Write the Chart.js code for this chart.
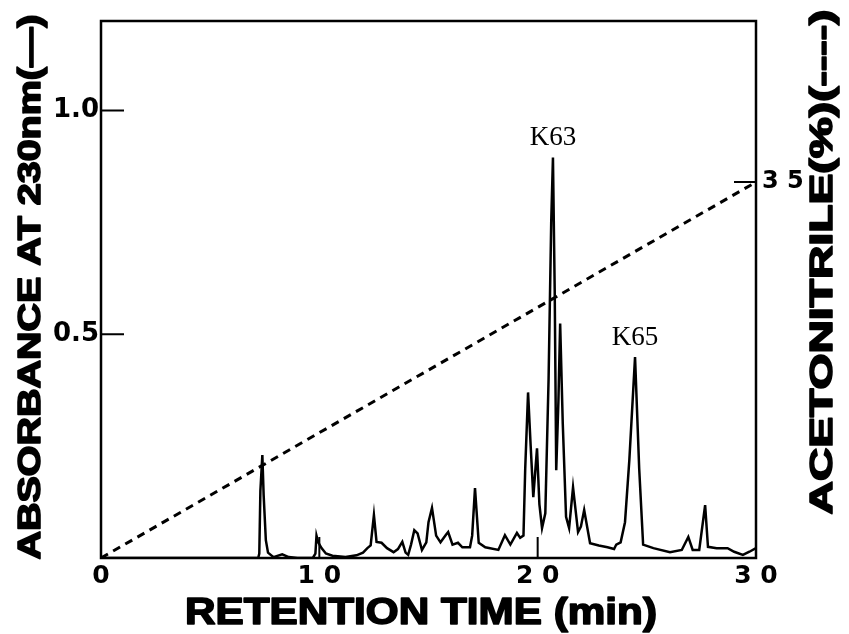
<!DOCTYPE html>
<html>
<head>
<meta charset="utf-8">
<script src="https://cdn.jsdelivr.net/npm/chart.js@4/dist/chart.umd.min.js"></script>
<style>
  html, body { margin: 0; padding: 0; background: #fff; }
  #wrap { width: 849px; height: 634px; }
</style>
</head>
<body>
<div id="wrap"><canvas id="chart" width="849" height="634"></canvas></div>
<script>
// Retention times (min) and absorbance at 230 nm of the HPLC trace
const retentionTimes = [
  0, 7.2, 7.25, 7.3, 7.39, 7.45, 7.55, 7.65, 7.9, 8.3, 8.6, 9.0, 9.7, 9.82, 9.87, 9.95,
  10.1, 10.3, 10.6, 11.2, 11.7, 12.0, 12.2, 12.35, 12.5, 12.62, 12.85, 13.1, 13.4, 13.6,
  13.8, 13.95, 14.07, 14.2, 14.35, 14.5, 14.7, 14.9, 15.0, 15.16, 15.35, 15.55, 15.8, 15.9,
  16.1, 16.35, 16.55, 16.9, 17.0, 17.13, 17.3, 17.6, 18.2, 18.5, 18.75, 19.05, 19.2, 19.35,
  19.43, 19.56, 19.68, 19.8, 19.97, 20.08, 20.2, 20.35, 20.5, 20.62, 20.7, 20.78, 20.85,
  20.95, 21.03, 21.15, 21.3, 21.44, 21.62, 21.85, 21.98, 22.13, 22.4, 22.8, 23.2, 23.5,
  23.6, 23.8, 24.0, 24.2, 24.46, 24.65, 24.83, 25.3, 26.06, 26.6, 26.9, 27.1, 27.4, 27.67,
  27.8, 28.2, 28.7, 29.0, 29.4, 29.7, 30.0
];
const absorbance = [
  0, 0, 0.01, 0.15, 0.23, 0.14, 0.04, 0.012, 0.002, 0.008, 0.002, 0, 0, 0.01, 0.05, 0.035,
  0.022, 0.01, 0.005, 0.002, 0.006, 0.012, 0.022, 0.028, 0.096, 0.036, 0.034, 0.022, 0.013, 0.02,
  0.036, 0.012, 0.007, 0.03, 0.062, 0.055, 0.018, 0.035, 0.08, 0.112, 0.05, 0.035, 0.052, 0.058,
  0.03, 0.034, 0.024, 0.024, 0.05, 0.156, 0.034, 0.024, 0.018, 0.051, 0.03, 0.056, 0.045, 0.05,
  0.2, 0.37, 0.25, 0.136, 0.245, 0.12, 0.067, 0.1, 0.4, 0.75, 0.895, 0.6, 0.196,
  0.35, 0.524, 0.3, 0.092, 0.067, 0.158, 0.058, 0.07, 0.107, 0.033, 0.028, 0.024, 0.02,
  0.03, 0.035, 0.08, 0.22, 0.449, 0.2, 0.03, 0.022, 0.013, 0.018, 0.047, 0.018, 0.018, 0.118,
  0.025, 0.022, 0.022, 0.014, 0.007, 0.014, 0.022
];

// Linear acetonitrile gradient
const gradientTimes = [0, 30];
const acetonitrile = [0, 35];

// Named peaks
const peakNames = ['K63', 'K65'];
const peakTimes = [20.7, 24.46];
const peakHeights = [0.895, 0.449];

// Axis ticks and their labels
const timeTicks = [0, 10, 20, 30];
const timeTickLabels = ['0', '1 0', '2 0', '3 0'];
const absTicks = [0.5, 1.0];
const absTickLabels = ['0.5', '1.0'];
const acnTicks = [35];
const acnTickLabels = ['3 5'];

const traceData = retentionTimes.map((t, i) => ({ x: t, y: absorbance[i] }));
const gradientData = gradientTimes.map((t, i) => ({ x: t, y: acetonitrile[i] }));

const SANS = '"Liberation Sans", Arial, Helvetica, sans-serif';
const SERIF = '"Liberation Serif", "Times New Roman", serif';

// Draws a heavy string stretched to a given length, optionally rotated
function fitText(ctx, text, cx, cy, length, font, rotation) {
  ctx.save();
  ctx.font = font;
  ctx.fillStyle = '#000';
  ctx.strokeStyle = '#000';
  ctx.lineJoin = 'round';
  ctx.textAlign = 'center';
  ctx.textBaseline = 'middle';
  const w = ctx.measureText(text).width;
  ctx.translate(cx, cy);
  ctx.rotate(rotation);
  ctx.scale(length / w, 1);
  ctx.lineWidth = 1.6;
  ctx.strokeText(text, 0, 0);
  ctx.fillText(text, 0, 0);
  ctx.restore();
}

const decorations = {
  id: 'decorations',
  afterDraw(chart) {
    const { ctx, chartArea: a, scales } = chart;
    ctx.save();
    // plot frame
    ctx.strokeStyle = '#000';
    ctx.lineWidth = 2.5;
    ctx.strokeRect(a.left, a.top, a.right - a.left, a.bottom - a.top);
    // inward tick marks
    ctx.lineWidth = 2;
    ctx.beginPath();
    timeTicks.slice(1, -1).forEach(v => {
      const px = scales.x.getPixelForValue(v);
      ctx.moveTo(px, a.bottom); ctx.lineTo(px, a.bottom - 21);
    });
    absTicks.forEach(v => {
      const py = scales.y.getPixelForValue(v);
      ctx.moveTo(a.left, py); ctx.lineTo(a.left + 23, py);
    });
    acnTicks.forEach(v => {
      const py = scales.y2.getPixelForValue(v);
      ctx.moveTo(a.right, py); ctx.lineTo(a.right - 22, py);
    });
    ctx.stroke();
    ctx.restore();

    // peak names
    ctx.save();
    ctx.font = '27px ' + SERIF;
    ctx.fillStyle = '#000';
    ctx.textAlign = 'center';
    ctx.textBaseline = 'alphabetic';
    peakNames.forEach((name, i) => {
      const px = scales.x.getPixelForValue(peakTimes[i]);
      const py = scales.y.getPixelForValue(peakHeights[i]);
      ctx.fillText(name, px, py - 12);
    });
    ctx.restore();

    // axis titles
    fitText(ctx, 'ABSORBANCE AT 230nm(—)', 31, 287, 545, 'bold 31px ' + SANS, -Math.PI / 2);
    fitText(ctx, 'ACETONITRILE(%)(----)', 823, 262, 505, 'bold 31px ' + SANS, -Math.PI / 2);
    fitText(ctx, 'RETENTION TIME (min)', 421, 614, 472, 'bold 37px ' + SANS, 0);
  }
};

const TICK_FONT = '"DejaVu Sans", "Liberation Sans", sans-serif';

new Chart(document.getElementById('chart'), {
  type: 'line',
  data: {
    datasets: [
      {
        label: 'Absorbance',
        data: traceData,
        yAxisID: 'y',
        borderColor: '#000',
        borderWidth: 2.5,
        pointRadius: 0,
        tension: 0,
        fill: false
      },
      {
        label: 'Acetonitrile',
        data: gradientData,
        yAxisID: 'y2',
        borderColor: '#000',
        borderWidth: 3,
        borderDash: [8, 6],
        pointRadius: 0,
        tension: 0,
        fill: false
      }
    ]
  },
  options: {
    responsive: false,
    animation: false,
    layout: { padding: { top: 21, left: 0, right: 0, bottom: 0 } },
    plugins: { legend: { display: false }, tooltip: { enabled: false } },
    scales: {
      x: {
        type: 'linear',
        min: 0, max: 30,
        grid: { display: false, drawTicks: false },
        border: { display: false },
        afterBuildTicks: s => { s.ticks = timeTicks.map(v => ({ value: v })); },
        afterFit: s => { s.height = 76; },
        ticks: {
          color: '#000',
          padding: 3,
          maxRotation: 0,
          autoSkip: false,
          font: { family: TICK_FONT, size: 25, weight: 'bold' },
          callback: (v) => timeTickLabels[timeTicks.indexOf(v)]
        }
      },
      y: {
        position: 'left',
        min: 0, max: 1.2,
        grid: { display: false, drawTicks: false },
        border: { display: false },
        afterBuildTicks: s => { s.ticks = absTicks.map(v => ({ value: v })); },
        afterFit: s => { s.width = 101; },
        ticks: {
          color: '#000',
          padding: 2,
          autoSkip: false,
          font: { family: TICK_FONT, size: 26, weight: 'bold' },
          callback: (v) => absTickLabels[absTicks.indexOf(v)]
        }
      },
      y2: {
        position: 'right',
        min: 0, max: 50,
        grid: { display: false, drawTicks: false },
        border: { display: false },
        afterBuildTicks: s => { s.ticks = acnTicks.map(v => ({ value: v })); },
        afterFit: s => { s.width = 93; },
        ticks: {
          color: '#000',
          padding: 6,
          autoSkip: false,
          font: { family: TICK_FONT, size: 24, weight: 'bold' },
          callback: (v) => acnTickLabels[acnTicks.indexOf(v)]
        }
      }
    }
  },
  plugins: [decorations]
});
</script>
</body>
</html>
